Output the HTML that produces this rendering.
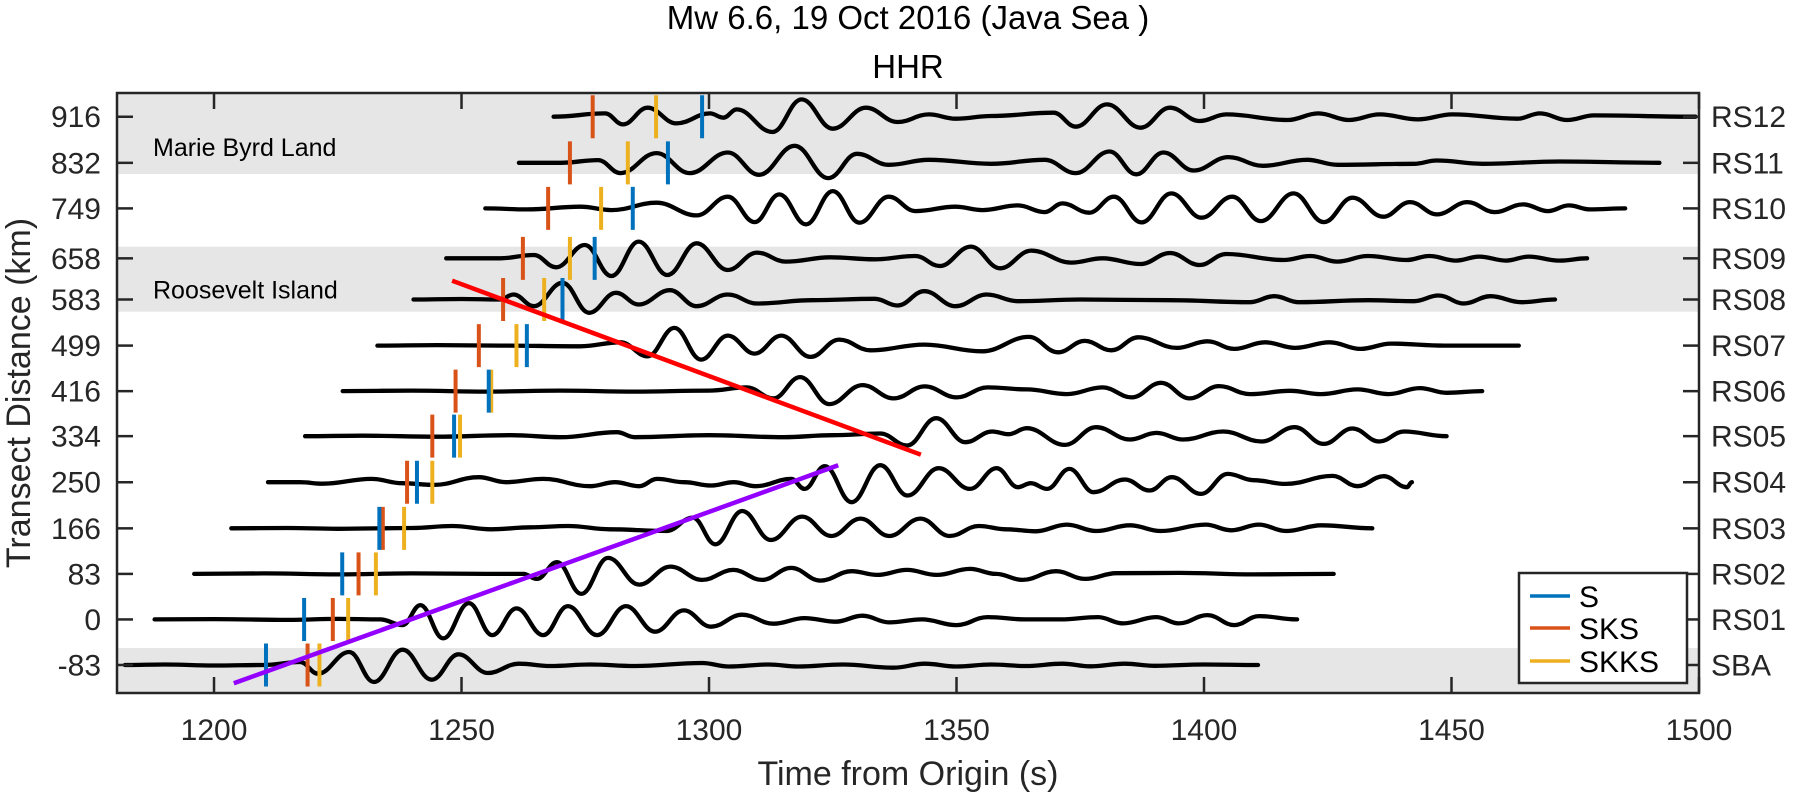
<!DOCTYPE html>
<html><head><meta charset="utf-8"><style>
html,body{margin:0;padding:0;background:#fff;}
svg{display:block;font-family:"Liberation Sans",Arial,sans-serif;}
</style></head><body>
<svg id="chart" width="1794" height="794" viewBox="0 0 1794 794"></svg>
<script>
const stations = ["SBA","RS01","RS02","RS03","RS04","RS05","RS06","RS07","RS08","RS09","RS10","RS11","RS12"];
const distances = [-83,0,83,166,250,334,416,499,583,658,749,832,916];
const sPick = [1210.5,1218.2,1225.9,1233.4,1241.0,1248.5,1255.5,1263.2,1270.4,1276.9,1284.6,1291.7,1298.6];
const sksPick = [1218.9,1224.0,1229.2,1234.1,1239.0,1244.1,1248.8,1253.5,1258.4,1262.4,1267.5,1271.9,1276.5];
const skksPick = [1221.3,1227.1,1232.7,1238.4,1244.1,1249.7,1256.0,1261.1,1266.7,1271.9,1278.2,1283.6,1289.3];
const traceStart = [1182,1188,1196,1203.5,1210.9,1218.4,1226,1233,1240.3,1246.9,1254.8,1261.6,1268.6];
const traceEnd = [1410.9,1418.8,1426.2,1434,1442,1449,1456.2,1463.6,1470.9,1477.4,1485.1,1492,1499.3];
const xTicks = [1200,1250,1300,1350,1400,1450,1500];
const bands = [[811.7,1000],[560.8,679.2],[-200,-52]];
const bandLabels = ["Marie Byrd Land","Roosevelt Island"];
const bandLabelDist = [861,601];
const redLine = [[1248.1,617.3],[1342.8,300.2]];
const purpleLine = [[1204,-116.3],[1326.1,280.9]];
// waveform extrema: [time (s), relative amplitude]
const waveforms = [
[[1190,0.5],[1200,-0.5],[1210,0],[1217.4,3],[1221,-8.7],[1227.3,13],[1232.3,-17],[1238.1,15.3],[1244,-14.7],[1249.4,10.7],[1255.3,-8],[1261.6,1.3],[1268,-1],[1276,0.5],[1285,-1],[1298.6,2],[1304,-1.5],[1312,0.5],[1318,-1.5],[1327,0.5],[1337.3,-2.7],[1343.6,1.3],[1350,-1.5],[1357,0.5],[1364,-1],[1371.4,1.3],[1377,-1.3],[1384,1.3],[1390,-0.8],[1400,0.5]],
[[1200,0.3],[1215,-0.5],[1225,0.5],[1233.6,0],[1238.1,-5.7],[1241.7,14.3],[1246.3,-19],[1251.5,16.3],[1256.2,-15.7],[1261.1,11],[1266.5,-15.7],[1271.5,13.3],[1277.4,-15.7],[1283.2,13.3],[1289.1,-12.3],[1294.9,9],[1300.4,-7.3],[1306.7,4.7],[1313,-4.3],[1319.3,1.3],[1325.6,-2.3],[1331,3.7],[1336.4,-3],[1343,0],[1350,-5.7],[1356.3,2.3],[1364,0],[1371,0],[1378.6,2.3],[1383.6,-4],[1390.4,2.3],[1394.9,-4],[1400.7,4.3],[1406.1,-5.7],[1411.1,3.3]],
[[1210,0.5],[1225,-0.5],[1240,0.5],[1255,0],[1262.5,0],[1265.2,-5],[1269.3,11.7],[1274.2,-20],[1279.6,16],[1285.9,-10.7],[1292.2,7.3],[1298.6,-6],[1304.9,4],[1310.7,-6],[1316.6,6],[1322.5,-6.7],[1328.8,2.7],[1334,-1],[1340,4],[1346,-1],[1352.7,5],[1358,0],[1363.3,-6],[1370.1,2.7],[1376,-5],[1382.3,0.7],[1395,1],[1410,-0.5]],
[[1215,0.3],[1225,-0.5],[1240,0.3],[1248.1,2.3],[1256,-1],[1264,1],[1271.5,2.3],[1280,-1],[1291.4,-2.7],[1296.7,10.7],[1301.3,-16],[1306.7,17.3],[1312.5,-11.7],[1318.8,11.7],[1324.7,-7.7],[1330.6,9.7],[1336.4,-7.7],[1342.7,9.7],[1348.6,-7.7],[1354.5,2.3],[1360,-1],[1366,-3],[1372.3,3.7],[1378.2,-2.7],[1385,3],[1391.3,-2.7],[1400.3,3.7],[1405.5,-2],[1411.1,3.7],[1416.5,-2.7],[1423.7,3]],
[[1217.4,0],[1222,-1.5],[1231.8,3.3],[1238,-1],[1244.5,-2.7],[1253.5,5],[1259,0],[1266.5,3.3],[1276,-4],[1281,0],[1285.9,-4],[1289.5,3.3],[1295,0],[1300.4,-3.3],[1305,0],[1309.4,-4],[1316.6,3.3],[1319.3,-6.7],[1323.4,16],[1328.8,-20],[1334.6,17],[1340.1,-13.3],[1346.4,14],[1352.7,-6.7],[1358.1,14],[1362.4,-5],[1365,-1],[1368.3,-6.7],[1372.8,13.3],[1377.7,-10],[1384,2.7],[1389,-8.3],[1393.5,5],[1399.4,-11.7],[1404.8,8.3],[1410,2],[1416.5,-1.7],[1426,6.3],[1431,-4],[1436.3,6],[1441,-5]],
[[1230,0.5],[1245,-0.5],[1260,1],[1270,-1],[1281.4,4],[1285,-1],[1300,1],[1315,-1],[1325,1],[1334.6,2.7],[1340,-9.3],[1345.9,18],[1351.8,-6],[1357.2,4.7],[1360.5,2],[1364.2,8],[1371.9,-8.7],[1378.2,9],[1385,-3.3],[1390.4,3.3],[1395.8,-3.3],[1403.9,4.7],[1411.6,-5.3],[1418.3,9],[1424.2,-7.7],[1430,7.7],[1435.4,-5.3],[1440.4,4.7]],
[[1240,0.5],[1255,-0.5],[1270,0.5],[1285,-0.5],[1300,0.5],[1307.6,3.7],[1313,-7.3],[1318.4,14],[1324.3,-13],[1331,6],[1337.3,-7.3],[1343.6,4.7],[1350,-6.3],[1356.3,3.7],[1364.2,1.7],[1372.3,-3],[1379.5,3.7],[1385.4,-6.3],[1391.3,8.3],[1397.1,-7.3],[1403,5],[1409.3,-3],[1417.4,0.3],[1423.7,-3],[1431,1.7],[1437.3,-3],[1443.6,3],[1449,-1.7]],
[[1245,0.5],[1257.8,0],[1274,-0.7],[1282.1,3.3],[1287.6,-10.7],[1293,17.7],[1298.4,-14],[1303.8,10],[1309.2,-8],[1314.6,10],[1320.5,-11.3],[1326.3,6],[1332.6,-4.7],[1343.5,1],[1355.2,-5.7],[1364.6,8.7],[1370.5,-6.7],[1375.9,4.7],[1381.3,-4.7],[1386.7,8.3],[1394.5,-2.3],[1400.7,4.3],[1406.1,-3.3],[1412.3,3.3],[1418.4,-2.3],[1425.4,3.3],[1431.6,-3.3],[1437.8,2],[1448.6,0]],
[[1250,0.5],[1257.8,0],[1260.5,5],[1264.6,-6.7],[1270.4,16.7],[1275.8,-13.3],[1281.2,6.7],[1285.8,-5],[1292.1,9.3],[1297.5,-6.7],[1303.8,5],[1309.7,-4],[1320.9,-0.7],[1333.5,0.7],[1338.1,-6],[1343.5,8.3],[1349.8,-6.7],[1356.1,5],[1362.4,-1.7],[1375,0],[1393.1,-0.7],[1409.2,-2.7],[1414.2,3.3],[1419.2,-2.7],[1433.1,-0.7],[1442.4,-1.7],[1447.4,4],[1452.5,-4],[1457.9,3.3],[1464.1,-2.7]],
[[1257.8,0],[1264.6,3.3],[1269.1,-9],[1274.9,13.3],[1280.3,-17.7],[1285.8,16.7],[1291.6,-16.7],[1297.5,15],[1303.8,-11.7],[1309.7,5.7],[1315.5,-3.3],[1324.5,1],[1333.5,-1],[1341.7,2.3],[1346.6,-7.7],[1352.9,11.7],[1358.8,-10],[1365.1,7.7],[1373.2,-4.3],[1379.5,0],[1387.2,-5.7],[1393.1,5.3],[1399.1,-6.7],[1404.5,4.3],[1416.1,-1.7],[1421.5,2.3],[1426.9,-3.3],[1433.1,2.3],[1440.9,-1.7],[1445.5,2.3],[1450.9,-2.3],[1455.6,1.7],[1461,-2.3],[1465.6,1.7],[1471.8,-2.3]],
[[1263.2,-1],[1274,1.7],[1280.3,-1.7],[1289.4,5.7],[1297.5,-7],[1303.8,11.7],[1309.2,-13.7],[1314.2,14],[1319.6,-16],[1325,17.3],[1330.4,-14.3],[1336.3,11.7],[1341.7,-2.7],[1349.8,1.7],[1355.2,-1.7],[1362.4,3],[1367.8,-3.7],[1371.4,5],[1376.8,-4.3],[1381.8,11.7],[1387.4,-14],[1393.4,15],[1399.5,-9.3],[1405.7,11.7],[1411.5,-12.7],[1418.1,15],[1424.2,-13.7],[1430,10.7],[1436.2,-8.3],[1441.6,6.3],[1447.1,-6],[1453.2,6.3],[1458.7,-3.7],[1464.5,4],[1469.5,-2.7],[1473.7,3],[1478,-1]],
[[1270,0],[1277.6,2.7],[1282.1,-10.3],[1289.4,9.7],[1296.1,-10.3],[1303.8,10.3],[1310.1,-12],[1317.3,17],[1324.1,-15.3],[1329.9,9],[1336.3,-2],[1344.4,3],[1357,-1],[1367.8,3],[1374.1,-10.3],[1380.9,11.3],[1386.3,-11.5],[1391.8,10.3],[1397.9,-7.7],[1404.9,5.7],[1411.9,-3],[1420.8,3],[1427,-2],[1442.4,-1],[1447,2.3],[1456.3,-1],[1471.8,1.3]],
[[1279,3.3],[1282.6,-7.7],[1287.6,9],[1293.4,-6.7],[1300.2,3.3],[1302.9,-1],[1305.6,7.3],[1312.8,-15.3],[1318.7,17.3],[1325,-12],[1331.7,9],[1338.1,-5.3],[1344.4,2.3],[1349.8,-2],[1357,0.7],[1369.6,4],[1374.1,-10],[1380.4,12.3],[1387.2,-11],[1393.1,9],[1399.1,-4.3],[1404.5,2.3],[1416.9,-3.3],[1423.1,3.3],[1429.3,-3.3],[1435.5,2.3],[1443.2,-2.7],[1450.2,2.3],[1463.3,-2],[1467.9,3.3],[1473.4,-3.3],[1478.8,1.3]]
];

const L=117,R=1699,T=93,B=693;
const X0=1180.4,X1=1500;
function xs(t){return L+(t-X0)/(X1-X0)*(R-L);}
function ys(d){return 665-(d+83)*0.5488;}
const AMP=1;
const NS="http://www.w3.org/2000/svg";
const svg=document.getElementById('chart');
function mk(tag,attrs,parent){const e=document.createElementNS(NS,tag);for(const k in attrs)e.setAttribute(k,attrs[k]);(parent||svg).appendChild(e);return e;}

const defs=mk('defs',{});
const cp=mk('clipPath',{id:'plotclip'},defs);
mk('rect',{x:L,y:T,width:R-L,height:B-T},cp);

bands.forEach((b,i)=>{
  const y1=Math.max(T,ys(b[1])),y2=Math.min(B,ys(b[0]));
  const r=mk('rect',{x:L,y:y1,width:R-L,height:y2-y1,fill:'#e6e6e6'});
  
  
});
bandLabels.forEach((s,i)=>{
  const t=mk('text',{x:153,y:ys(bandLabelDist[i])+9,'font-size':25,fill:'#000'});
  t.textContent=s;
  
  
});

const g=mk('g',{'clip-path':'url(#plotclip)'});
stations.forEach((st,i)=>{
  const y0=ys(distances[i]);
  const pts=[[traceStart[i],0]].concat(waveforms[i]).concat([[traceEnd[i],0]]).map(p=>[xs(p[0]),y0-p[1]*AMP]);
  let d='M'+pts[0][0].toFixed(1)+','+pts[0][1].toFixed(1);
  for(let k=1;k<pts.length;k++){
    const a=pts[k-1],b=pts[k],dx=b[0]-a[0];
    d+=' C'+(a[0]+dx*0.4).toFixed(1)+','+a[1].toFixed(1)+' '+(b[0]-dx*0.4).toFixed(1)+','+b[1].toFixed(1)+' '+b[0].toFixed(1)+','+b[1].toFixed(1);
  }
  const p=mk('path',{d:d,fill:'none',stroke:'#000','stroke-width':4.3,'stroke-linejoin':'round','stroke-linecap':'round'},g);
  
  
});
const pickSets=[[sksPick,'#D95319','sks'],[skksPick,'#EDB120','skks'],[sPick,'#0072BD','s']];
stations.forEach((st,i)=>{
  const y0=ys(distances[i]);
  pickSets.forEach(ps=>{
    const x=xs(ps[0][i]);
    const l=mk('line',{x1:x,x2:x,y1:y0-21.5,y2:y0+21.5,stroke:ps[1],'stroke-width':4},g);
    
    
  });
});
const rl=mk('line',{x1:xs(redLine[0][0]),y1:ys(redLine[0][1]),x2:xs(redLine[1][0]),y2:ys(redLine[1][1]),stroke:'#ff0000','stroke-width':4.5},g);


const pl=mk('line',{x1:xs(purpleLine[0][0]),y1:ys(purpleLine[0][1]),x2:xs(purpleLine[1][0]),y2:ys(purpleLine[1][1]),stroke:'#9400ff','stroke-width':4.5},g);



const box=mk('rect',{x:L,y:T,width:R-L,height:B-T,fill:'none',stroke:'#262626','stroke-width':2.5});


xTicks.forEach(v=>{
  const x=xs(v);
  mk('line',{x1:x,x2:x,y1:B,y2:B-16,stroke:'#262626','stroke-width':2.5});
  mk('line',{x1:x,x2:x,y1:T,y2:T+16,stroke:'#262626','stroke-width':2.5});
  const t=mk('text',{x:x,y:740,'text-anchor':'middle','font-size':30,fill:'#262626'});
  t.textContent=v;
  
  
});
distances.forEach((dv,i)=>{
  const y=ys(dv);
  mk('line',{x1:L,x2:L+16,y1:y,y2:y,stroke:'#262626','stroke-width':2.5});
  mk('line',{x1:R,x2:R-16,y1:y,y2:y,stroke:'#262626','stroke-width':2.5});
  const t=mk('text',{x:101,y:y+10.5,'text-anchor':'end','font-size':30,fill:'#262626'});
  t.textContent=dv;
  
  
  const s=mk('text',{x:1711,y:y+10.5,'font-size':30,fill:'#262626'});
  s.textContent=stations[i];
  
  
});
</script>
<script>
(function(){
const NS="http://www.w3.org/2000/svg";
const svg=document.getElementById('chart');
function mk(tag,attrs){const e=document.createElementNS(NS,tag);for(const k in attrs)e.setAttribute(k,attrs[k]);svg.appendChild(e);return e;}
const t1=mk('text',{x:908,y:29,'text-anchor':'middle','font-size':33,fill:'#000'});
t1.textContent='Mw 6.6, 19 Oct 2016 (Java Sea )';


const t2=mk('text',{x:908,y:78,'text-anchor':'middle','font-size':33,fill:'#000'});
t2.textContent='HHR';


const xl=mk('text',{x:908,y:785,'text-anchor':'middle','font-size':34,fill:'#262626'});
xl.textContent='Time from Origin (s)';


const yl=mk('text',{x:0,y:0,'text-anchor':'middle','font-size':34,fill:'#262626',transform:'translate(30,393) rotate(-90)'});
yl.textContent='Transect Distance (km)';


const lg=mk('rect',{x:1519,y:573,width:168,height:110,fill:'#fff',stroke:'#262626','stroke-width':2.5});


const items=[['S','#0072BD',596],['SKS','#D95319',628],['SKKS','#EDB120',661]];
items.forEach(it=>{
  const l=mk('line',{x1:1530,x2:1570,y1:it[2],y2:it[2],stroke:it[1],'stroke-width':3.6});
  
  
  const t=mk('text',{x:1579,y:it[2]+11,'font-size':30,fill:'#000'});
  t.textContent=it[0];
  
  
});
})();
</script>
</body></html>
